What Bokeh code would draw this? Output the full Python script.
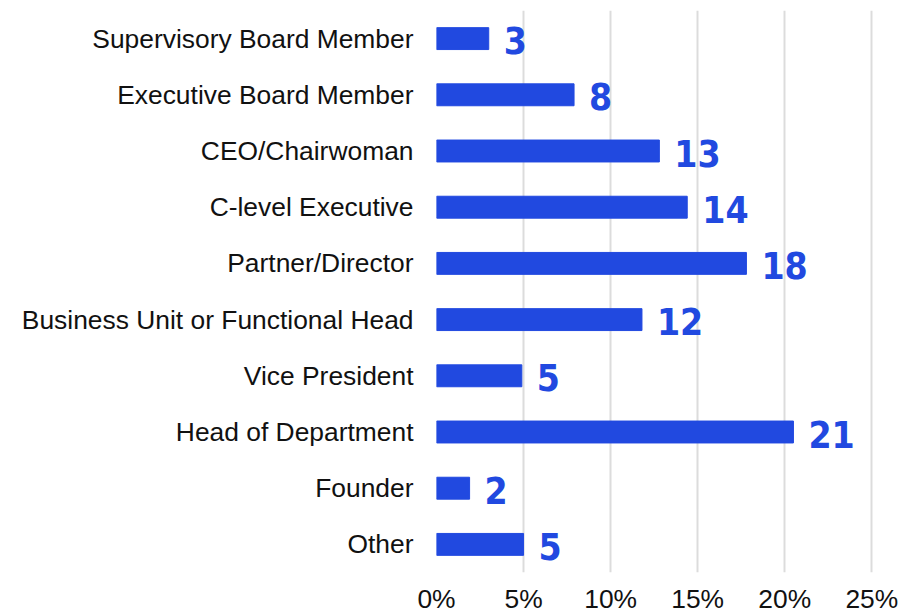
from bokeh.plotting import figure
from bokeh.models import ColumnDataSource, FactorRange, FixedTicker, Range1d
from bokeh.core.properties import value
from bokeh.embed import file_html
from bokeh.resources import INLINE

categories = ["Supervisory Board Member", "Executive Board Member", "CEO/Chairwoman",
              "C-level Executive", "Partner/Director", "Business Unit or Functional Head",
              "Vice President", "Head of Department", "Founder", "Other"]
shares = [3.0, 7.9, 12.8, 14.4, 17.8, 11.8, 4.9, 20.5, 1.9, 5.0]
labels = ["3", "8", "13", "14", "18", "12", "5", "21", "2", "5"]
tick_values = [0, 5, 10, 15, 20, 25]
tick_labels = ["0%", "5%", "10%", "15%", "20%", "25%"]

BLUE = "#2149E0"

src = ColumnDataSource(dict(cat=categories, val=shares, lab=labels))

p = figure(width=914, height=616, output_backend="svg", toolbar_location=None,
           y_range=FactorRange(factors=list(reversed(categories)), range_padding=0),
           x_range=Range1d(0, 25.5),
           min_border_left=436, min_border_right=34, min_border_top=10, min_border_bottom=40)

p.hbar(y="cat", right="val", left=0, height=0.39, color=BLUE, source=src)
p.text(x="val", y="cat", text="lab", source=src, x_offset=15, y_offset=2,
       text_align="left", text_baseline="middle",
       text_font=value("DejaVu Sans Condensed"), text_font_style="bold",
       text_font_size="37px", text_color=BLUE)

p.outline_line_color = None
p.ygrid.grid_line_color = None
p.xgrid.grid_line_color = "#dcdcdc"
p.xgrid.grid_line_width = 2
p.xaxis.ticker = FixedTicker(ticks=tick_values)
p.xaxis.major_label_overrides = {v: l for v, l in zip(tick_values, tick_labels)}
p.xgrid.ticker = FixedTicker(ticks=tick_values)

for ax in (p.xaxis, p.yaxis):
    ax.axis_line_color = None
    ax.major_tick_line_color = None
    ax.minor_tick_line_color = None
    ax.major_label_text_font = "Liberation Sans"
    ax.major_label_text_font_size = "26.4px"
    ax.major_label_text_color = "#111111"
p.xaxis.major_label_standoff = 5
p.yaxis.major_label_standoff = 17

open("out.html", "w").write(file_html(p, INLINE))
